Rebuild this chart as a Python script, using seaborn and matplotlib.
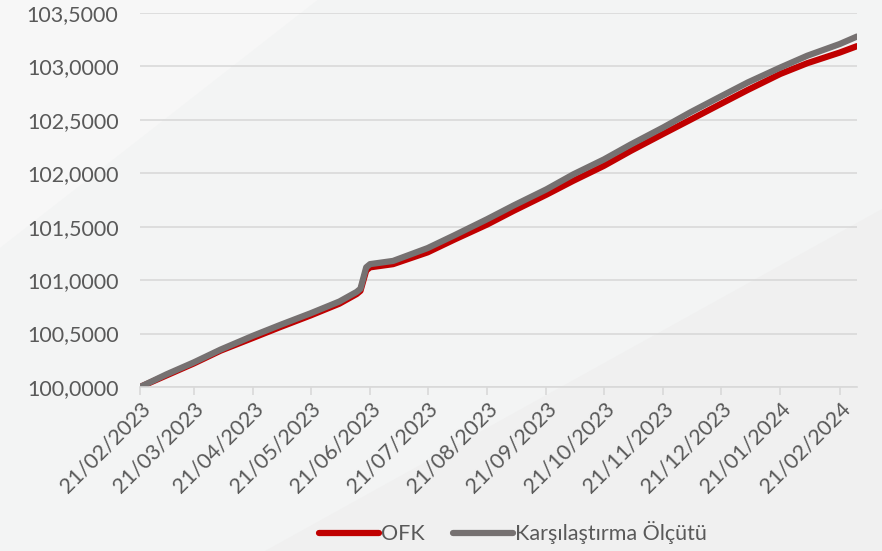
import numpy as np
import pandas as pd
import matplotlib.pyplot as plt
import matplotlib.dates as mdates
from matplotlib.patches import Polygon
from matplotlib.ticker import FuncFormatter
import seaborn as sns

sns.set_theme(style="white")
plt.rcParams['font.family'] = ['Lato', 'DejaVu Sans']

# values (roughly every two weeks, denser around the June jump)
dates = ['2023-02-21', '2023-03-07', '2023-03-21', '2023-04-04', '2023-04-21', '2023-05-05',
         '2023-05-21', '2023-06-05', '2023-06-14', '2023-06-16', '2023-06-19', '2023-06-21',
         '2023-07-03', '2023-07-21', '2023-08-04', '2023-08-21', '2023-09-04', '2023-09-21',
         '2023-10-05', '2023-10-21', '2023-11-04', '2023-11-21', '2023-12-05', '2023-12-21',
         '2024-01-04', '2024-01-21', '2024-02-04', '2024-02-21', '2024-03-01']
ofk = [100.00, 100.11, 100.22, 100.34, 100.46, 100.56,
       100.67, 100.78, 100.87, 100.90, 101.09, 101.12,
       101.15, 101.26, 101.38, 101.52, 101.65, 101.80,
       101.93, 102.07, 102.21, 102.37, 102.50, 102.65,
       102.78, 102.93, 103.03, 103.13, 103.19]
benchmark = [100.00, 100.12, 100.23, 100.35, 100.48, 100.58,
             100.69, 100.80, 100.89, 100.92, 101.12, 101.15,
             101.18, 101.30, 101.42, 101.57, 101.70, 101.85,
             101.99, 102.13, 102.27, 102.43, 102.57, 102.72,
             102.85, 102.99, 103.10, 103.21, 103.28]
series_names = ['OFK', 'Karşılaştırma Ölçütü']
colors = ['#C00000', '#767171']

df = pd.DataFrame({'date': pd.to_datetime(dates), series_names[0]: ofk, series_names[1]: benchmark})
long_df = df.melt(id_vars='date', var_name='seri', value_name='deger')

fig = plt.figure(figsize=(8.82, 5.51), dpi=100)
fig.patch.set_facecolor('#f3f4f4')
# faint diagonal shapes in the background (kept behind the axes)
fig.patches.append(Polygon([[0.0, 1.0], [0.36, 1.0], [0.0, 0.55]], closed=True,
                           transform=fig.transFigure, facecolor='#f7f7f7', edgecolor='none', zorder=-10))
fig.patches.append(Polygon([[0.30, 0.0], [1.0, 0.0], [1.0, 0.62]], closed=True,
                           transform=fig.transFigure, facecolor='#f0f0f0', edgecolor='none', zorder=-10))

ax = fig.add_axes([0.1587, 0.2976, 0.8130, 0.6788])
ax.set_facecolor('none')

sns.lineplot(data=long_df, x='date', y='deger', hue='seri', palette=colors,
             linewidth=4.5, ax=ax, solid_capstyle='round')

ax.set_xlim(df['date'].iloc[0], df['date'].iloc[-1])
ax.set_ylim(100, 103.5)
ax.set_yticks(np.arange(100, 103.51, 0.5))
ax.yaxis.set_major_formatter(FuncFormatter(lambda v, p: f'{v:.4f}'.replace('.', ',')))
ax.xaxis.set_major_locator(mdates.MonthLocator(bymonthday=21))
ax.xaxis.set_major_formatter(mdates.DateFormatter('%d/%m/%Y'))

ax.grid(axis='y', color='#d9d9d9', linewidth=1.2)
ax.set_axisbelow(True)
for s in ['top', 'right', 'left']:
    ax.spines[s].set_visible(False)
ax.spines['bottom'].set_color('#d9d9d9')
ax.spines['bottom'].set_linewidth(1.2)
ax.tick_params(axis='x', bottom=True, length=6, width=1.2, color='#d9d9d9',
               labelsize=15.5, labelcolor='#595959', pad=2)
ax.tick_params(axis='y', left=False, labelsize=15.5, labelcolor='#595959', pad=9.5)
plt.setp(ax.get_xticklabels(), rotation=45, ha='right', rotation_mode='anchor')
ax.set(xlabel='', ylabel='')

leg = ax.legend(loc='center', bbox_to_anchor=(0.52, -0.39), ncol=2, frameon=False,
                fontsize=15.5, handlelength=2.8, handletextpad=0.1, columnspacing=1.3)
for t in leg.get_texts():
    t.set_color('#595959')
for h in leg.get_lines():
    h.set_linewidth(4.5)

fig.savefig('out.png', dpi=100, facecolor=fig.get_facecolor())
